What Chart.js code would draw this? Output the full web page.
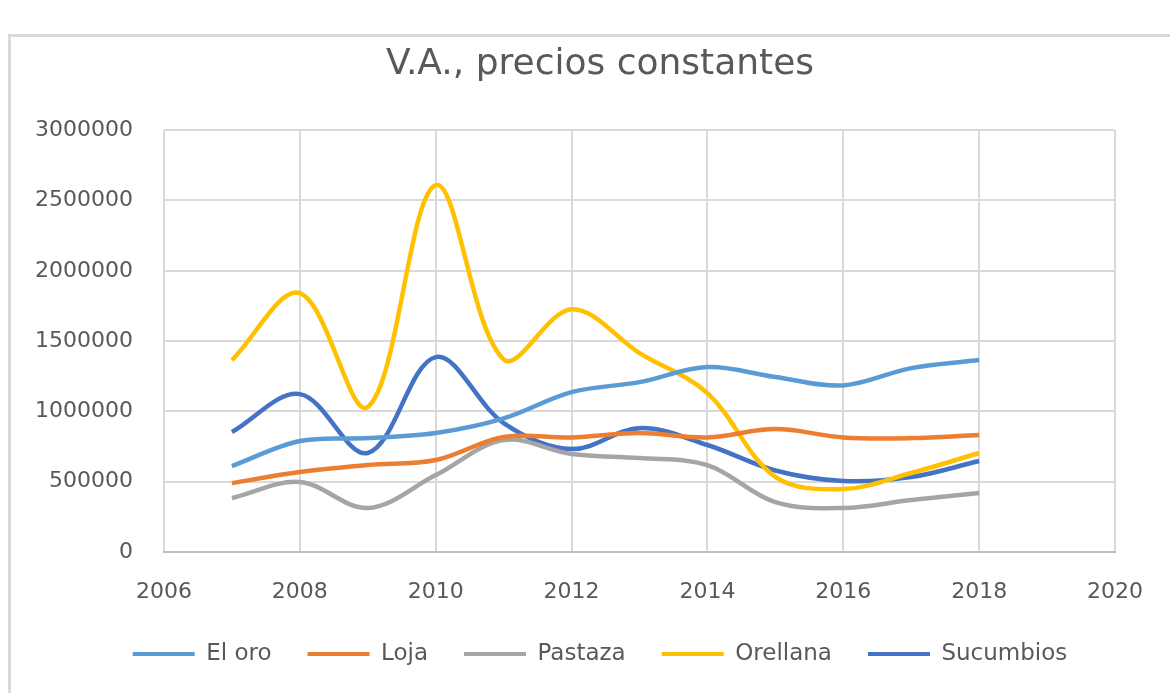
<!DOCTYPE html>
<html>
<head>
<meta charset="utf-8">
<script src="https://cdn.jsdelivr.net/npm/chart.js@4"></script>
<style>
  html, body { margin: 0; padding: 0; background: #fff; overflow: hidden; }
  #frame { position: absolute; left: 8px; top: 34px; width: 1180px; height: 700px; border: 3px solid #d9d9d9; box-sizing: border-box; }
  #wrap { position: absolute; left: 0; top: 0; width: 1170px; height: 693px; }
</style>
</head>
<body>
<div id="frame"></div>
<div id="wrap"><canvas id="myLineChart" width="1170" height="693"></canvas></div>
<script>
const years = [2007, 2008, 2009, 2010, 2011, 2012, 2013, 2014, 2015, 2016, 2017, 2018];
const elOro = [611000, 789000, 810000, 846000, 950000, 1137000, 1208000, 1315000, 1244000, 1185000, 1308000, 1365000];
const loja = [490000, 569000, 618000, 654000, 818000, 815000, 846000, 815000, 874000, 815000, 810000, 832000];
const pastaza = [384000, 498000, 313000, 547000, 796000, 697000, 668000, 618000, 355000, 313000, 370000, 420000];
const orellana = [1365000, 1841000, 1031000, 2609000, 1370000, 1727000, 1415000, 1130000, 534000, 448000, 562000, 704000];
const sucumbios = [853000, 1123000, 704000, 1386000, 917000, 732000, 881000, 761000, 580000, 505000, 533000, 647000];

const seriesNames = ["El oro", "Loja", "Pastaza", "Orellana", "Sucumbios"];
const seriesColors = ['#5B9BD5', '#ED7D31', '#A5A5A5', '#FFC000', '#4472C4'];
const xTicks = [2006, 2008, 2010, 2012, 2014, 2016, 2018, 2020];
const yTicks = [0, 500000, 1000000, 1500000, 2000000, 2500000, 3000000];

document.addEventListener('DOMContentLoaded', function() {
    const font = "'DejaVu Sans', sans-serif";
    const allSeries = [elOro, loja, pastaza, orellana, sucumbios];
    const datasets = allSeries.map(function(values, i) {
        return {
            label: seriesNames[i],
            data: values.map(function(v, j) { return { x: years[j], y: v }; }),
            borderColor: seriesColors[i],
            backgroundColor: seriesColors[i],
            borderWidth: 4.5,
            pointRadius: 0,
            tension: 0.35,
            fill: false,
            yAxisID: 'y',
        };
    });

    const ctx = document.getElementById('myLineChart').getContext('2d');
    const myLineChart = new Chart(ctx, {
        type: 'line',
        data: { datasets: datasets },
        options: {
            responsive: false,
            animation: false,
            maintainAspectRatio: false,
            layout: { padding: { left: 30, right: 0, top: 43, bottom: 17.5 } },
            scales: {
                x: {
                    type: 'linear',
                    min: xTicks[0],
                    max: xTicks[xTicks.length - 1],
                    afterBuildTicks: function(scale) {
                        scale.ticks = xTicks.map(function(v) { return { value: v }; });
                    },
                    afterFit: function(scale) { scale.height = 54.5; },
                    ticks: {
                        color: '#595959',
                        font: { family: font, size: 22 },
                        padding: 27,
                        maxRotation: 0,
                        callback: function(value) { return String(value); }
                    },
                    grid: { color: '#d9d9d9', lineWidth: 2, drawTicks: false },
                    border: { color: '#bfbfbf', width: 2 },
                },
                y: {
                    min: yTicks[0],
                    max: yTicks[yTicks.length - 1],
                    afterBuildTicks: function(scale) {
                        scale.ticks = yTicks.map(function(v) { return { value: v }; });
                    },
                    afterFit: function(scale) { scale.width = 134; },
                    ticks: {
                        color: '#595959',
                        font: { family: font, size: 22 },
                        padding: 31,
                        callback: function(value) { return String(value); }
                    },
                    grid: { color: '#d9d9d9', lineWidth: 2, drawTicks: false },
                    border: { display: false },
                },
                // empty right-hand axis, only reserves the margin on the right
                yRight: {
                    axis: 'y',
                    position: 'right',
                    min: 0,
                    max: 1,
                    ticks: { display: false },
                    grid: { display: false, drawTicks: false },
                    border: { display: false },
                    afterFit: function(scale) { scale.width = 54; },
                },
            },
            plugins: {
                title: {
                    display: true,
                    text: 'V.A., precios constantes',
                    color: '#595959',
                    font: { family: font, size: 36, weight: 'normal', lineHeight: 1.2 },
                    padding: { top: 0, bottom: 44 },
                },
                legend: {
                    position: 'bottom',
                    labels: {
                        color: '#595959',
                        font: { family: font, size: 23 },
                        boxWidth: 62,
                        boxHeight: 4,
                        padding: 36,
                        generateLabels: function(chart) {
                            return Chart.defaults.plugins.legend.labels.generateLabels(chart).map(function(item) {
                                item.lineWidth = 0;
                                return item;
                            });
                        }
                    }
                },
                tooltip: { enabled: false }
            }
        }
    });
});
</script>
</body>
</html>
